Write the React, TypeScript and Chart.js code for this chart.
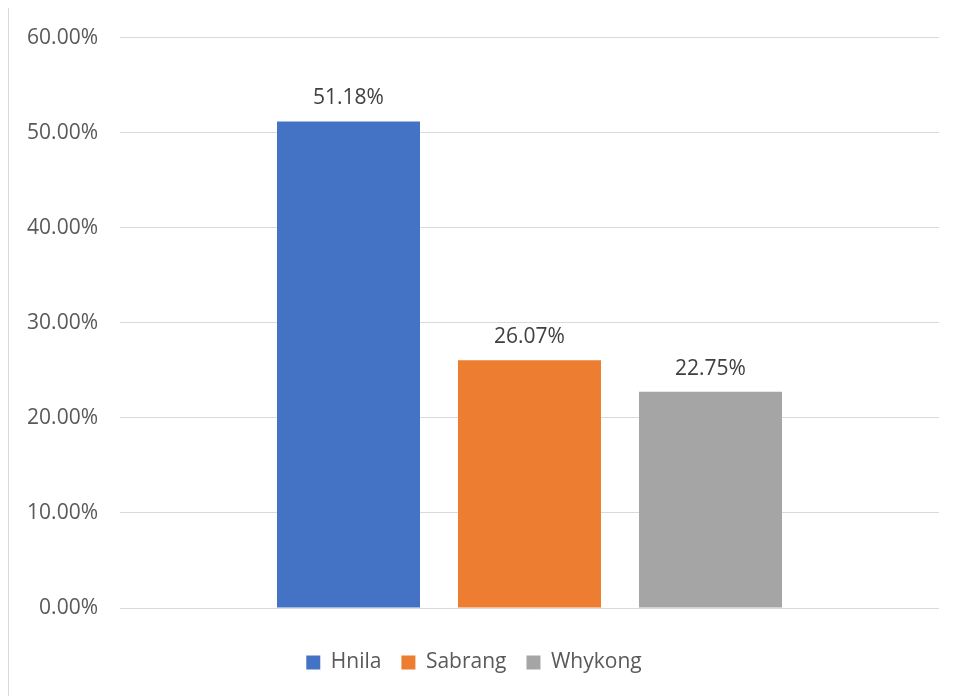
import React, { useEffect, useRef } from "react";
import { Chart, registerables } from "chart.js";

Chart.register(...registerables);

const seriesNames = ["Hnila", "Sabrang", "Whykong"];
const seriesValues = [51.18, 26.07, 22.75];
const seriesColors = ["#4472C4", "#ED7D31", "#A5A5A5"];
const categories = [""];
const yMax = 60;
const yStep = 10;

const FONT = "'Open Sans', 'Noto Sans', sans-serif";

const valueLabels = {
  id: "valueLabels",
  afterDatasetsDraw(chart: any) {
    const ctx = chart.ctx;
    ctx.save();
    ctx.font = `21px ${FONT}`;
    ctx.fillStyle = "#404040";
    ctx.textAlign = "center";
    ctx.textBaseline = "alphabetic";
    chart.data.datasets.forEach((ds: any, i: number) => {
      const meta = chart.getDatasetMeta(i);
      meta.data.forEach((bar: any, j: number) => {
        const v = ds.data[j] as number;
        ctx.fillText(v.toFixed(2) + "%", bar.x, bar.y - 17);
      });
    });
    ctx.restore();
  },
};

export default function App() {
  const ref = useRef<HTMLCanvasElement>(null);

  useEffect(() => {
    if (!ref.current) return;
    const chart = new Chart(ref.current, {
      type: "bar",
      data: {
        labels: categories,
        datasets: seriesNames.map((name, i) => ({
          label: name,
          data: [seriesValues[i]],
          backgroundColor: seriesColors[i],
          borderWidth: 0,
          categoryPercentage: 0.663,
          barPercentage: 0.79,
        })),
      },
      options: {
        responsive: false,
        animation: false,
        layout: { padding: { left: 0, right: 18, top: 24, bottom: 12 } },
        plugins: {
          title: { display: false },
          tooltip: { enabled: false },
          legend: {
            display: true,
            position: "bottom",
            labels: {
              boxWidth: 14,
              boxHeight: 14,
              padding: 20,
              color: "#595959",
              font: { family: FONT, size: 21 },
            },
          },
        },
        scales: {
          x: {
            display: true,
            ticks: { display: false },
            grid: { display: false },
            border: { display: false },
            afterFit: (scale: any) => {
              scale.height = 24;
            },
          },
          y: {
            min: 0,
            max: yMax,
            ticks: {
              stepSize: yStep,
              padding: 22,
              color: "#595959",
              font: { family: FONT, size: 21 },
              callback: (v: any) => Number(v).toFixed(2) + "%",
            },
            grid: { color: "#d9d9d9", lineWidth: 1, drawTicks: false },
            border: { display: false },
            afterFit: (scale: any) => {
              scale.width = 111;
            },
          },
        },
      },
      plugins: [valueLabels],
    });
    return () => chart.destroy();
  }, []);

  return (
    <div
      style={{
        position: "relative",
        top: -1,
        width: 950,
        height: 692,
        boxSizing: "border-box",
        border: "1px solid #d9d9d9",
        background: "#fff",
      }}
    >
      <canvas
        ref={ref}
        width={948}
        height={692}
        style={{ display: "block", marginTop: -5 }}
      />
    </div>
  );
}
